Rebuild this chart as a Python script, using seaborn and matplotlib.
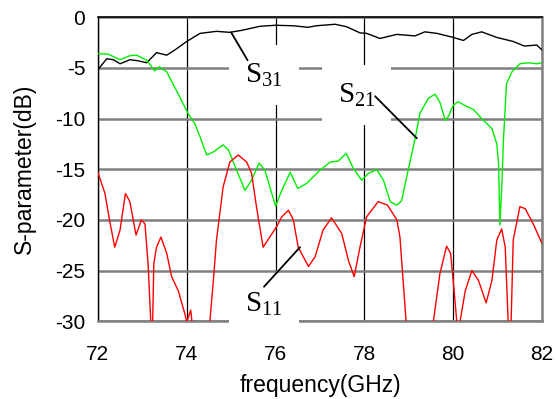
import numpy as np
import pandas as pd
import seaborn as sns
import matplotlib.pyplot as plt

# S31 (black)
freq_s31 = [72.0, 72.2, 72.35, 72.5, 72.72, 72.9, 73.1, 73.32, 73.55, 73.73, 74.0, 74.3,
            74.67, 74.97, 75.24, 75.65, 76.0, 76.4, 76.73, 76.92, 77.34, 77.6, 77.9, 78.05,
            78.35, 78.73, 79.14, 79.36, 79.63, 80.0, 80.23, 80.42, 80.64, 80.98, 81.35, 81.6,
            81.88, 82.0]
s31 = [-5.2, -4.1, -4.2, -4.6, -4.2, -4.3, -4.5, -3.5, -3.75, -3.25, -2.4, -1.6,
       -1.4, -1.5, -1.3, -0.9, -0.8, -0.85, -1.0, -0.85, -0.7, -0.95, -1.55, -1.6,
       -2.1, -1.7, -1.85, -1.45, -1.6, -2.0, -2.3, -1.7, -1.45, -2.0, -2.4, -2.85,
       -2.75, -3.25]

# S21 (green)
freq_s21 = [72.0, 72.23, 72.5, 72.72, 72.87, 73.1, 73.28, 73.38, 73.55, 73.8, 74.03, 74.18,
            74.3, 74.45, 74.6, 74.82, 74.94, 75.05, 75.31, 75.46, 75.63, 75.76, 76.0, 76.14,
            76.33, 76.5, 76.7, 77.0, 77.23, 77.41, 77.59, 77.75, 77.94, 78.09, 78.28, 78.43,
            78.58, 78.73, 78.84, 78.95, 79.05, 79.14, 79.25, 79.44, 79.59, 79.7, 79.82, 79.89,
            80.0, 80.11, 80.3, 80.45, 80.64, 80.87, 80.98, 81.02, 81.05, 81.09, 81.13, 81.2,
            81.32, 81.5, 81.69, 81.88, 82.0]
s21 = [-3.6, -3.65, -4.2, -3.8, -3.75, -4.25, -5.3, -4.9, -5.4, -7.5, -9.5, -10.5,
       -11.8, -13.6, -13.3, -12.6, -13.1, -14.3, -17.1, -16.1, -14.4, -15.1, -18.65, -17.1,
       -15.3, -16.9, -16.4, -15.1, -14.3, -14.2, -13.45, -14.9, -16.1, -15.4, -15.05, -16.1,
       -18.2, -18.55, -18.1, -15.8, -13.8, -12.0, -9.5, -8.0, -7.6, -8.4, -10.2, -9.8,
       -8.7, -8.35, -8.8, -9.1, -10.0, -11.0, -12.5, -14.5, -20.5, -17.0, -12.1, -6.55,
       -5.4, -4.6, -4.5, -4.6, -4.5]

# S11 (red), values under -30 fall off the bottom of the axes
freq_s11 = [72.0, 72.16, 72.27, 72.38, 72.5, 72.62, 72.72, 72.86, 72.98, 73.06, 73.13, 73.19,
            73.22, 73.26, 73.32, 73.42, 73.55, 73.66, 73.81, 73.96, 74.0, 74.09, 74.13, 74.3,
            74.52, 74.6, 74.67, 74.82, 74.97, 75.16, 75.35, 75.46, 75.57, 75.72, 75.87, 76.02,
            76.14, 76.29, 76.4, 76.51, 76.74, 76.89, 77.07, 77.26, 77.49, 77.64, 77.77, 77.9,
            78.05, 78.31, 78.52, 78.73, 78.8, 78.94, 79.2, 79.55, 79.7, 79.85, 79.94, 80.02,
            80.08, 80.11, 80.15, 80.27, 80.42, 80.57, 80.74, 80.87, 80.98, 81.09, 81.17, 81.24,
            81.27, 81.3, 81.35, 81.5, 81.62, 81.8, 82.0]
s11 = [-15.3, -17.4, -20.2, -22.7, -21.0, -17.4, -18.2, -21.5, -20.0, -20.4, -24.3, -29.9,
       -33.0, -24.3, -22.7, -21.7, -23.3, -25.6, -27.0, -29.3, -30.1, -28.9, -30.5, -35.0,
       -30.1, -26.0, -22.0, -16.75, -14.3, -13.6, -14.3, -15.4, -18.7, -22.7, -21.7, -20.7,
       -19.7, -19.05, -20.0, -22.7, -24.6, -23.65, -21.0, -19.8, -21.35, -24.0, -25.6, -22.7,
       -19.7, -18.2, -18.55, -20.0, -21.7, -30.1, -35.0, -30.1, -25.3, -22.6, -23.3, -27.0,
       -30.1, -33.0, -30.1, -27.0, -25.0, -26.0, -28.2, -26.0, -22.0, -20.9, -22.7, -30.5,
       -33.0, -30.5, -22.0, -18.7, -18.9, -20.4, -22.35]

x_ticks = [72, 74, 76, 78, 80, 82]
y_ticks = [0, -5, -10, -15, -20, -25, -30]

df = pd.concat([
    pd.DataFrame({'freq': freq_s31, 'dB': s31, 'series': 'S31'}),
    pd.DataFrame({'freq': freq_s21, 'dB': s21, 'series': 'S21'}),
    pd.DataFrame({'freq': freq_s11, 'dB': s11, 'series': 'S11'}),
])

sns.set_style('white')
plt.rcParams['font.family'] = ['Liberation Sans', 'DejaVu Sans']
plt.rcParams['axes.unicode_minus'] = False
plt.rcParams['mathtext.fontset'] = 'custom'
plt.rcParams['mathtext.rm'] = 'Liberation Serif'
plt.rcParams['text.color'] = 'black'
plt.rcParams['axes.labelcolor'] = 'black'
plt.rcParams['xtick.color'] = 'black'
plt.rcParams['ytick.color'] = 'black'

fig, ax = plt.subplots(figsize=(5.56, 3.99), dpi=100)
fig.subplots_adjust(left=0.176, right=0.975, top=0.957, bottom=0.195)

palette = {'S31': 'black', 'S21': '#00ee00', 'S11': '#ff0000'}
sns.lineplot(data=df, x='freq', y='dB', hue='series', palette=palette,
             estimator=None, sort=False, legend=False, lw=1.0, ax=ax, zorder=3)

ax.set_xlim(72, 82)
ax.set_ylim(-30, 0)
ax.set_xticks(x_ticks)
ax.set_yticks(y_ticks)
ax.tick_params(axis='x', length=0, pad=17, labelsize=15)
ax.tick_params(axis='y', length=3, pad=6, labelsize=15)

ax.yaxis.grid(True, color='#808080', lw=1.8)
ax.xaxis.grid(True, color='black', lw=0.9)
ax.set_axisbelow(True)

ax.spines['left'].set_color('black')
ax.spines['left'].set_linewidth(1.0)
ax.spines['top'].set_color('black')
ax.spines['top'].set_linewidth(1.2)
ax.spines['right'].set_color('#808080')
ax.spines['right'].set_linewidth(1.8)
ax.spines['bottom'].set_color('#808080')
ax.spines['bottom'].set_linewidth(1.8)

ax.set_xlabel('frequency(GHz)', fontsize=16.5, labelpad=7)
ax.set_ylabel('S-parameter(dB)', fontsize=16.5, labelpad=14)

box = dict(boxstyle='square,pad=0.55', facecolor='white', edgecolor='none')
labels = [('$\\mathrm{S}_{31}$', 75.31, -6.4, (75.0, -1.5), (75.37, -4.25)),
          ('$\\mathrm{S}_{21}$', 77.4, -8.4, (79.18, -11.95), (78.24, -7.8)),
          ('$\\mathrm{S}_{11}$', 75.31, -29.0, (76.55, -22.7), (75.74, -26.6))]
for txt, tx, ty, p_curve, p_text in labels:
    ax.text(tx, ty, txt, fontsize=21, ha='left', va='baseline', bbox=box,
            zorder=5, clip_on=False)
    ax.annotate('', xy=p_curve, xytext=p_text,
                arrowprops=dict(arrowstyle='-', color='black', lw=1.3,
                                shrinkA=0, shrinkB=0), zorder=6)

fig.savefig('out.png', dpi=100)
